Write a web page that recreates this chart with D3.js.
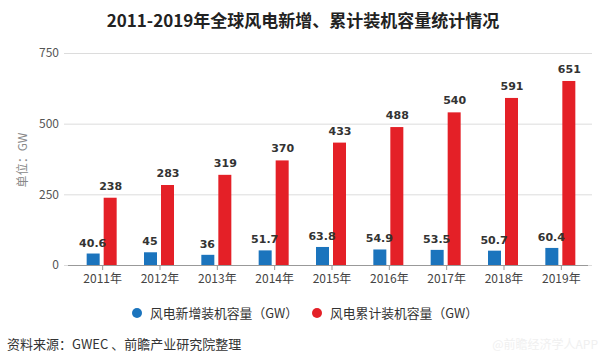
<!DOCTYPE html>
<html>
<head>
<meta charset="utf-8">
<script src="https://cdn.jsdelivr.net/npm/d3@7"></script>
<style>
  body { margin: 0; background: #fff; }
  svg { font-family: "Noto Sans CJK SC", "Noto Sans", sans-serif; }
</style>
</head>
<body>
<div id="chart"></div>
<script>
var years = ['2011', '2012', '2013', '2014', '2015', '2016', '2017', '2018', '2019'];
var newInstalled = [40.6, 45, 36, 51.7, 63.8, 54.9, 53.5, 50.7, 60.4];
var cumInstalled = [238, 283, 319, 370, 433, 488, 540, 591, 651];
var yTicks = [0, 250, 500, 750];
var seriesNames = ['风电新增装机容量（GW）', '风电累计装机容量（GW）'];

var chart_width = 604;
var chart_height = 364;
var blue = '#1b74bd';
var red = '#e42027';

var svg = d3.select('#chart')
    .append('svg')
    .attr('width', chart_width)
    .attr('height', chart_height);

var x_scale = d3.scaleBand()
    .domain(years)
    .range([74, 590]);

var y_scale = d3.scaleLinear()
    .domain([0, 750])
    .range([265, 53]);

// title
svg.append('text')
    .attr('x', 303)
    .attr('y', 27)
    .attr('text-anchor', 'middle')
    .style('font-size', '17px')
    .style('font-weight', 'bold')
    .style('fill', '#222')
    .text('2011-2019年全球风电新增、累计装机容量统计情况');

// grid + y labels
var y_axis = d3.axisLeft(y_scale)
    .tickValues(yTicks)
    .tickSize(-(592 - 64))
    .tickPadding(6);
var gy = svg.append('g')
    .attr('class', 'y-axis')
    .attr('transform', 'translate(64,0)')
    .call(y_axis);
gy.select('.domain').remove();
gy.selectAll('.tick line').attr('stroke', '#dcdcdc');
gy.selectAll('.tick text')
    .attr('x', -5)
    .style('font-size', '12px')
    .style('fill', '#555')
    .style('font-family', '"Noto Sans CJK SC", sans-serif');

svg.append('text')
    .attr('transform', 'translate(27,160) rotate(-90)')
    .attr('text-anchor', 'middle')
    .style('font-size', '12px')
    .style('fill', '#888')
    .text('单位：GW');

// x axis
var x_axis = d3.axisBottom(x_scale)
    .tickSize(5)
    .tickSizeOuter(0)
    .tickPadding(4)
    .tickFormat(function (d) { return d + '年'; });
var gx = svg.append('g')
    .attr('class', 'x-axis')
    .attr('transform', 'translate(0,265)')
    .call(x_axis);
gx.select('.domain').attr('stroke', '#999').attr('d', 'M68,0.5H588');
gx.selectAll('.tick line').attr('stroke', '#999');
gx.selectAll('.tick text')
    .style('font-size', '12px')
    .style('fill', '#444')
    .style('font-family', '"Noto Sans CJK SC", sans-serif');

// bars
var barW = 13;
var bars = svg.append('g');
bars.selectAll('.bar-new')
    .data(years)
    .enter()
    .append('rect')
    .attr('x', function (d) { return x_scale(d) + x_scale.bandwidth() / 2 - 16; })
    .attr('y', function (d, i) { return y_scale(newInstalled[i]); })
    .attr('width', barW)
    .attr('height', function (d, i) { return y_scale(0) - y_scale(newInstalled[i]); })
    .attr('fill', blue);

bars.selectAll('.bar-cum')
    .data(years)
    .enter()
    .append('rect')
    .attr('x', function (d) { return x_scale(d) + x_scale.bandwidth() / 2 + 1; })
    .attr('y', function (d, i) { return y_scale(cumInstalled[i]); })
    .attr('width', barW)
    .attr('height', function (d, i) { return y_scale(0) - y_scale(cumInstalled[i]); })
    .attr('fill', red);

// value labels
var labels = svg.append('g')
    .style('font-family', '"DejaVu Sans", sans-serif')
    .style('font-size', '11px')
    .style('font-weight', 'bold')
    .style('fill', '#333')
    .attr('text-anchor', 'middle');
labels.selectAll('.lab-new')
    .data(years)
    .enter()
    .append('text')
    .attr('x', function (d) { return x_scale(d) + x_scale.bandwidth() / 2 - 10; })
    .attr('y', function (d, i) { return y_scale(newInstalled[i]) - 7; })
    .text(function (d, i) { return newInstalled[i]; });
labels.selectAll('.lab-cum')
    .data(years)
    .enter()
    .append('text')
    .attr('x', function (d) { return x_scale(d) + x_scale.bandwidth() / 2 + 8; })
    .attr('y', function (d, i) { return y_scale(cumInstalled[i]) - 8; })
    .text(function (d, i) { return cumInstalled[i]; });

// legend
var legend = svg.append('g');
var legendX = [137, 317];
[blue, red].forEach(function (c, i) {
    legend.append('circle')
        .attr('cx', legendX[i])
        .attr('cy', 313)
        .attr('r', 5)
        .attr('fill', c);
    legend.append('text')
        .attr('x', legendX[i] + 13)
        .attr('y', 317.5)
        .style('font-size', '12.8px')
        .style('fill', '#333')
        .text(seriesNames[i]);
});

// source
svg.append('text')
    .attr('x', 7)
    .attr('y', 349)
    .style('font-size', '13px')
    .style('fill', '#333')
    .text('资料来源：GWEC 、前瞻产业研究院整理');

svg.append('text')
    .attr('x', 598)
    .attr('y', 349)
    .attr('text-anchor', 'end')
    .style('font-size', '12px')
    .style('fill', '#f0f0f0')
    .text('@前瞻经济学人APP');
</script>
</body>
</html>
